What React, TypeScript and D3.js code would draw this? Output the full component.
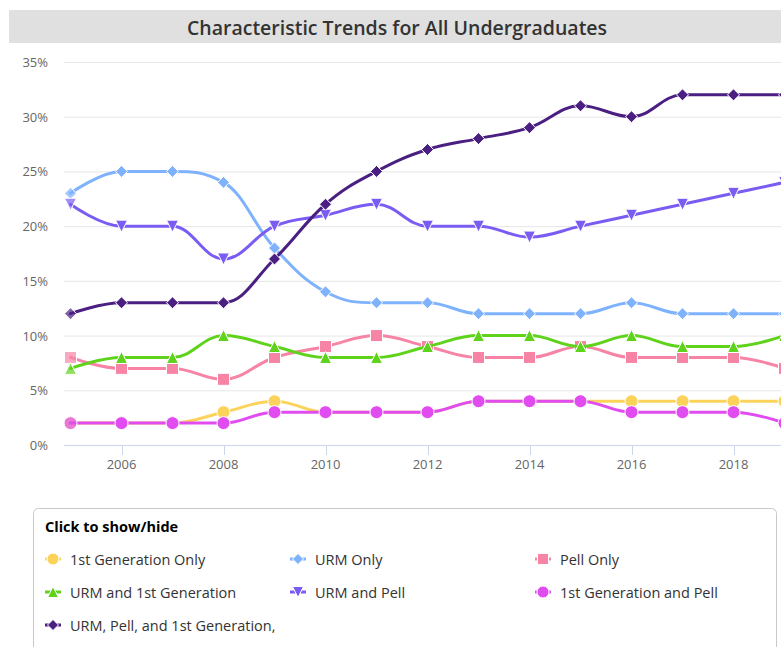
import React from "react";
import * as d3 from "d3";

const years = [2005, 2006, 2007, 2008, 2009, 2010, 2011, 2012, 2013, 2014, 2015, 2016, 2017, 2018, 2019];
const firstGenOnly = [2, 2, 2, 3, 4, 3, 3, 3, 4, 4, 4, 4, 4, 4, 4];
const urmOnly = [23, 25, 25, 24, 18, 14, 13, 13, 12, 12, 12, 13, 12, 12, 12];
const pellOnly = [8, 7, 7, 6, 8, 9, 10, 9, 8, 8, 9, 8, 8, 8, 7];
const urmFirstGen = [7, 8, 8, 10, 9, 8, 8, 9, 10, 10, 9, 10, 9, 9, 10];
const urmPell = [22, 20, 20, 17, 20, 21, 22, 20, 20, 19, 20, 21, 22, 23, 24];
const firstGenPell = [2, 2, 2, 2, 3, 3, 3, 3, 4, 4, 4, 3, 3, 3, 2];
const urmPellFirstGen = [12, 13, 13, 13, 17, 22, 25, 27, 28, 29, 31, 30, 32, 32, 32];

const seriesNames = [
  "1st Generation Only",
  "URM Only",
  "Pell Only",
  "URM and 1st Generation",
  "URM and Pell",
  "1st Generation and Pell",
  "URM, Pell, and 1st Generation,",
];
const seriesValues = [firstGenOnly, urmOnly, pellOnly, urmFirstGen, urmPell, firstGenPell, urmPellFirstGen];
const seriesColors = ["#fbd35b", "#7fb2fc", "#f884a5", "#5fd31c", "#7b5cf3", "#e04cf0", "#4b1f82"];
const seriesSymbols = ["circle", "diamond", "square", "triangle", "triangle-down", "circle", "diamond"];

const yTicks = [0, 5, 10, 15, 20, 25, 30, 35];
const xTicks = [2006, 2008, 2010, 2012, 2014, 2016, 2018];
const title = "Characteristic Trends for All Undergraduates";
const legendTitle = "Click to show/hide";

// Highcharts-like spline as a d3 curve factory
function HCSpline(this: any, context: any) {
  this._context = context;
}
HCSpline.prototype = {
  areaStart() {},
  areaEnd() {},
  lineStart() {
    this._pts = [] as [number, number][];
  },
  point(x: number, y: number) {
    this._pts.push([+x, +y]);
  },
  lineEnd() {
    const p = this._pts as [number, number][];
    const c = this._context;
    const n = p.length;
    if (!n) return;
    const sm = 1.5;
    const den = sm + 1;
    const left: [number, number][] = [];
    const right: [number, number][] = [];
    for (let i = 0; i < n; i++) {
      const [x, y] = p[i];
      if (i === 0 || i === n - 1) {
        left.push([x, y]);
        right.push([x, y]);
        continue;
      }
      const [lx, ly] = p[i - 1];
      const [nx, ny] = p[i + 1];
      const lcx = (sm * x + lx) / den;
      let lcy = (sm * y + ly) / den;
      const rcx = (sm * x + nx) / den;
      let rcy = (sm * y + ny) / den;
      if (rcx !== lcx) {
        const corr = ((rcy - lcy) * (rcx - x)) / (rcx - lcx) + y - rcy;
        lcy += corr;
        rcy += corr;
      }
      if (lcy > ly && lcy > y) {
        lcy = Math.max(ly, y);
        rcy = 2 * y - lcy;
      } else if (lcy < ly && lcy < y) {
        lcy = Math.min(ly, y);
        rcy = 2 * y - lcy;
      }
      if (rcy > ny && rcy > y) {
        rcy = Math.max(ny, y);
        lcy = 2 * y - rcy;
      } else if (rcy < ny && rcy < y) {
        rcy = Math.min(ny, y);
        lcy = 2 * y - rcy;
      }
      left.push([lcx, lcy]);
      right.push([rcx, rcy]);
    }
    c.moveTo(p[0][0], p[0][1]);
    for (let i = 1; i < n; i++) {
      c.bezierCurveTo(right[i - 1][0], right[i - 1][1], left[i][0], left[i][1], p[i][0], p[i][1]);
    }
  },
};
const curveHC: any = (context: any) => new (HCSpline as any)(context);

function symbolPath(sym: string, x: number, y: number, r: number): string {
  const p = d3.path();
  if (sym === "circle") {
    p.arc(x, y, r, 0, Math.PI * 2);
  } else if (sym === "square") {
    p.rect(x - r, y - r, 2 * r, 2 * r);
  } else if (sym === "diamond") {
    p.moveTo(x, y - r);
    p.lineTo(x + r, y);
    p.lineTo(x, y + r);
    p.lineTo(x - r, y);
    p.closePath();
  } else if (sym === "triangle") {
    p.moveTo(x, y - r);
    p.lineTo(x + r, y + r);
    p.lineTo(x - r, y + r);
    p.closePath();
  } else {
    p.moveTo(x - r, y - r);
    p.lineTo(x + r, y - r);
    p.lineTo(x, y + r);
    p.closePath();
  }
  return p.toString();
}

const W = 781;
const H = 647;
const FONT = "'Open Sans', 'Noto Sans', sans-serif";

export default function App() {
  const x = d3.scaleLinear().domain([2005, 2019]).range([70.5, 784.5]);
  const y = d3.scaleLinear().domain([0, 35]).range([445, 62]);
  const plotLeft = 64;
  const line = d3
    .line<number>()
    .x((_, i) => x(years[i]))
    .y((v) => y(v))
    .curve(curveHC);

  const legendCols = [53, 298, 543];
  const legendRows = [559, 592, 625];

  return (
    <svg
      width={W}
      height={H}
      style={{ position: "absolute", left: 0, top: 0, fontFamily: FONT }}
    >
      <rect x={0} y={0} width={W} height={H} fill="#fff" />
      <rect x={9} y={10} width={W - 9} height={33} fill="#e0e0e0" />
      <text x={397} y={27} textAnchor="middle" dominantBaseline="central" fontSize={19.5} fontWeight={600} fill="#333">
        {title}
      </text>

      {yTicks.map((t) => (
        <g key={t}>
          {t > 0 && <line x1={plotLeft} x2={W} y1={y(t) + 0.5} y2={y(t) + 0.5} stroke="#e6e6e6" strokeWidth={1} />}
          <text x={48} y={y(t)} textAnchor="end" dominantBaseline="central" fontSize={13} fill="#666">
            {t}%
          </text>
        </g>
      ))}
      <line x1={plotLeft} x2={W} y1={y(0) + 0.5} y2={y(0) + 0.5} stroke="#ccd6eb" strokeWidth={1} />
      {xTicks.map((t) => (
        <g key={t}>
          <line x1={Math.round(x(t)) + 0.5} x2={Math.round(x(t)) + 0.5} y1={y(0)} y2={y(0) + 10} stroke="#ccd6eb" />
          <text x={x(t)} y={464} textAnchor="middle" dominantBaseline="central" fontSize={13} fill="#666">
            {t}
          </text>
        </g>
      ))}

      {seriesValues.map((vals, si) => (
        <g key={si}>
          <path d={line(vals) || ""} fill="none" stroke={seriesColors[si]} strokeWidth={3} strokeLinejoin="round" strokeLinecap="round" />
          {vals.map((v, i) => (
            <path
              key={i}
              d={symbolPath(seriesSymbols[si], x(years[i]), y(v), seriesSymbols[si] === "circle" ? 6.5 : 6)}
              fill={seriesColors[si]}
              fillOpacity={i === 0 ? 0.7 : 1}
              stroke="#fff"
              strokeWidth={1}
            />
          ))}
        </g>
      ))}

      <rect x={33.5} y={508.5} width={743} height={160} rx={5} ry={5} fill="#fff" stroke="#c8c8c8" strokeWidth={1} />
      <text x={45} y={526} dominantBaseline="central" fontSize={14.5} fontWeight={700} fill="#000">
        {legendTitle}
      </text>
      {seriesNames.map((name, si) => {
        const cx = legendCols[si % 3];
        const cy = legendRows[Math.floor(si / 3)];
        return (
          <g key={name}>
            <line x1={cx - 8} x2={cx + 8} y1={cy} y2={cy} stroke={seriesColors[si]} strokeWidth={3} />
            <path d={symbolPath(seriesSymbols[si], cx, cy, seriesSymbols[si] === "circle" ? 6 : 5.5)} fill={seriesColors[si]} stroke="#fff" strokeWidth={1} />
            <text x={cx + 17} y={cy} dominantBaseline="central" fontSize={14.5} fill="#333">
              {name}
            </text>
          </g>
        );
      })}
    </svg>
  );
}
